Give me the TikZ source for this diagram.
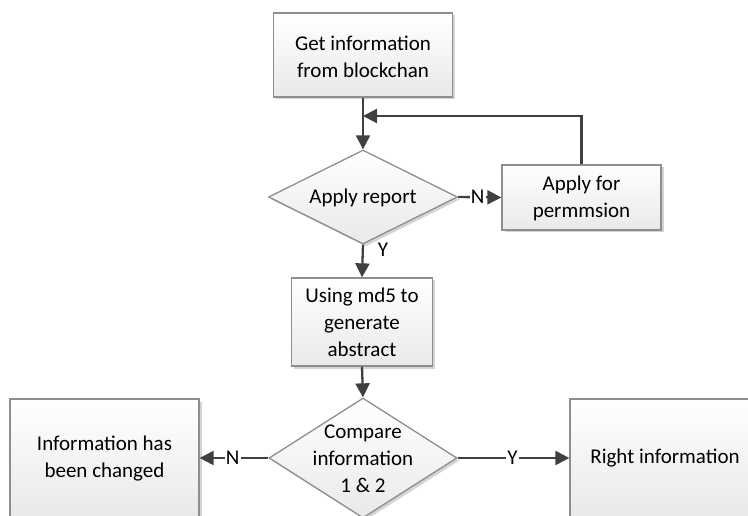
\documentclass[tikz,border=0pt]{standalone}
\usepackage{fontspec}
\setmainfont{Carlito}
\usetikzlibrary{shapes.geometric,arrows.meta,shadows}

\definecolor{edgegray}{HTML}{8E8E8E}
\definecolor{linkgray}{HTML}{404040}
\definecolor{fillbot}{HTML}{E9E9E9}
\definecolor{shadegray}{HTML}{D4D4D4}

\tikzset{
  txt/.style={font=\fontsize{21}{27}\selectfont, align=center, inner sep=0pt},
  shapebase/.style={draw=edgegray, line width=1.3pt, top color=white, bottom color=fillbot,
    drop shadow={shadow xshift=2.5pt, shadow yshift=-2.5pt, fill=shadegray, opacity=1}},
  procbox/.style={shapebase, rectangle, inner sep=0pt},
  decision/.style={shapebase, diamond, inner sep=0pt},
  link/.style={draw=linkgray, line width=2.3pt, -{Triangle[length=14pt,width=14pt]}},
  plainlink/.style={draw=linkgray, line width=2.3pt},
  tag/.style={font=\fontsize{21}{27}\selectfont, fill=white, inner sep=1.2pt}
}

\begin{document}
\begin{tikzpicture}[x=1pt,y=-1pt]
  \useasboundingbox (0,0) rectangle (748,516);
  \clip (0,0) rectangle (748,516);

  % process boxes
  \node[procbox, minimum width=179pt, minimum height=84pt] (getinfo) at (363,55) {};
  \node[txt] (getinfotxt) at (363,57) {Get information\\from blockchan};

  \node[decision, minimum width=189pt, minimum height=94pt] (report) at (363,197) {};
  \node[txt] (reporttxt) at (363,198) {Apply report};

  \node[procbox, minimum width=159pt, minimum height=65pt] (perm) at (581.5,197.5) {};
  \node[txt] (permtxt) at (581.5,198) {Apply for\\permmsion};

  \node[procbox, minimum width=141pt, minimum height=88pt] (md5) at (362,322) {};
  \node[txt] (md5txt) at (362,322) {Using md5 to\\generate\\abstract};

  \node[decision, minimum width=188pt, minimum height=120pt] (compare) at (363,458) {};
  \node[txt] (comparetxt) at (363,459) {Compare\\information\\1 \& 2};

  \node[procbox, minimum width=189pt, minimum height=118pt] (changed) at (104.5,458) {};
  \node[txt] (changedtxt) at (104.5,459) {Information has\\been changed};

  \node[procbox, minimum width=190pt, minimum height=118pt] (right) at (665,458) {};
  \node[txt] (righttxt) at (665,458) {Right information};

  % connectors
  \coordinate (join) at (363,116);
  \draw[link] (getinfo.south) -- (report.north);
  \draw[link] (perm.north) |- (join);

  \draw[link] (report.east) -- node[tag, pos=0.45] (ntag) {N} (perm.west);
  \draw[link] (report.south) -- (md5.north);
  \node[txt] (ytag) at (383,250) {Y};

  \draw[link] (md5.south) -- (compare.north);

  \draw[link] (compare.west) -- node[tag, pos=0.52] (ntag2) {N} (changed.east);
  \draw[link] (compare.east) -- node[tag, pos=0.49] (ytag2) {Y} (right.west);
\end{tikzpicture}
\end{document}
